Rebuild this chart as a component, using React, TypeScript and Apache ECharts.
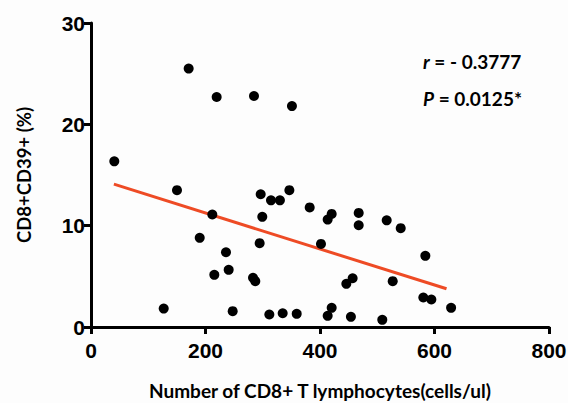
import React, { useEffect, useRef } from "react";
import * as echarts from "echarts";

const xValues = [40.7, 170.6, 219.5, 284.7, 351, 150.2, 211.9, 189.9, 235.8, 215.4, 240.5, 283, 287, 127, 247.5, 296.4, 314.4, 330, 346.5, 299.2, 294.6, 311.5, 334.8, 359.3, 382, 420.4, 413.4, 467.6, 467.6, 516.5, 541, 401.7, 584, 457, 446, 527, 580.5, 594.5, 629, 420.4, 413.4, 454, 508.8];
const yValues = [16.35, 25.5, 22.7, 22.8, 21.8, 13.5, 11.1, 8.8, 7.38, 5.15, 5.64, 4.85, 4.52, 1.82, 1.56, 13.1, 12.5, 12.5, 13.5, 10.87, 8.27, 1.23, 1.36, 1.3, 11.8, 11.16, 10.6, 11.26, 10.04, 10.53, 9.75, 8.2, 7.02, 4.81, 4.26, 4.52, 2.91, 2.71, 1.89, 1.89, 1.1, 1.0, 0.71];
const fitLineX = [40, 621];
const fitLineY = [14.1, 3.77];
const xTicks = [0, 200, 400, 600, 800];
const yTicks = [0, 10, 20, 30];
const xTitle = "Number of CD8+ T lymphocytes(cells/ul)";
const yTitle = "CD8+CD39+ (%)";

export default function App() {
  const ref = useRef<HTMLDivElement>(null);
  useEffect(() => {
    document.body.style.margin = "0";
    const chart = echarts.init(ref.current!, null, { renderer: "svg" });
    const titleFont = "Lato, 'Open Sans', sans-serif";
    chart.setOption({
      animation: false,
      backgroundColor: "#fdfdfd",
      grid: { left: 91, right: 19, top: 23, bottom: 76, outerBoundsMode: "none", containLabel: false },
      xAxis: {
        type: "value",
        min: xTicks[0],
        max: xTicks[xTicks.length - 1],
        interval: xTicks[1] - xTicks[0],
        splitLine: { show: false },
        axisLine: { onZero: false, lineStyle: { color: "#000", width: 3 } },
        axisTick: { show: true, length: 7, lineStyle: { width: 3, color: "#000" } },
        axisLabel: { color: "#000", fontSize: 21, fontWeight: "bold", fontFamily: "'Liberation Sans', Arial", margin: 13 },
        name: xTitle,
        nameLocation: "middle",
        nameGap: 54,
        nameTextStyle: { color: "#000", fontSize: 19, fontWeight: "bold", fontFamily: titleFont },
      },
      yAxis: {
        type: "value",
        min: yTicks[0],
        max: yTicks[yTicks.length - 1],
        interval: yTicks[1] - yTicks[0],
        splitLine: { show: false },
        axisLine: { show: true, onZero: false, lineStyle: { color: "#000", width: 3 } },
        axisTick: { show: true, length: 7, lineStyle: { width: 3, color: "#000" } },
        axisLabel: { color: "#000", fontSize: 21, fontWeight: "bold", fontFamily: "'Liberation Sans', Arial", margin: 6 },
        name: yTitle,
        nameLocation: "middle",
        nameGap: 58,
        nameTextStyle: { color: "#000", fontSize: 18.5, fontWeight: "bold", fontFamily: titleFont },
      },
      series: [
        {
          type: "line",
          data: fitLineX.map((x, i) => [x, fitLineY[i]]),
          symbol: "none",
          lineStyle: { color: "#ee4b25", width: 3 },
          z: 2,
        },
        {
          type: "scatter",
          data: xValues.map((x, i) => [x, yValues[i]]),
          symbolSize: 10,
          itemStyle: { color: "#000", opacity: 1 },
          z: 3,
        },
      ],
      graphic: [
        {
          type: "text",
          left: 423,
          top: 52,
          style: {
            text: "{i|r} = - 0.3777",
            fill: "#000",
            font: "bold 19px Lato, 'Open Sans', sans-serif",
            rich: { i: { fontStyle: "italic", fontWeight: "bold", fontSize: 19, fontFamily: titleFont } },
          },
        },
        {
          type: "text",
          left: 423,
          top: 89,
          style: {
            text: "{i|P} = 0.0125*",
            fill: "#000",
            font: "bold 19px Lato, 'Open Sans', sans-serif",
            rich: { i: { fontStyle: "italic", fontWeight: "bold", fontSize: 19, fontFamily: titleFont } },
          },
        },
      ],
    });
    return () => chart.dispose();
  }, []);
  return <div ref={ref} style={{ position: "absolute", left: 0, top: 0, width: 568, height: 403 }} />;
}
